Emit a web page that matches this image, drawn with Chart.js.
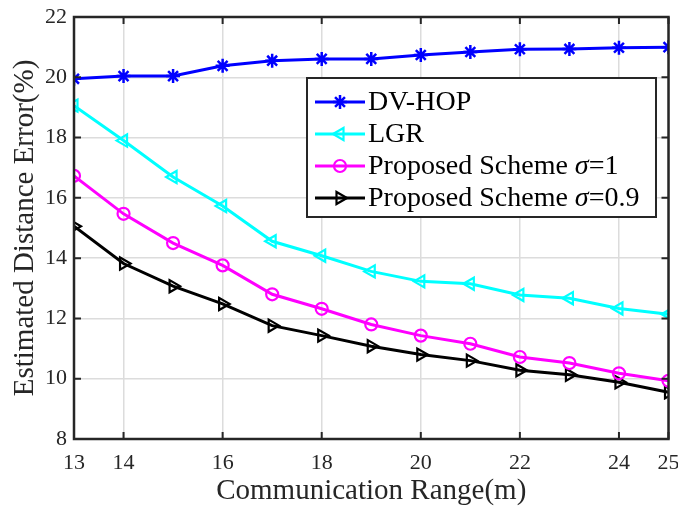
<!DOCTYPE html>
<html>
<head>
<meta charset="utf-8">
<script src="https://cdn.jsdelivr.net/npm/chart.js@4/dist/chart.umd.min.js"></script>
<style>
  html, body { margin: 0; padding: 0; background: #ffffff; }
  #wrap { width: 678px; height: 509px; }
</style>
</head>
<body>
<div id="wrap"><canvas id="c" width="678" height="509"></canvas></div>
<script>
const ranges = [13, 14, 15, 16, 17, 18, 19, 20, 21, 22, 23, 24, 25];
const dvHop = [19.95, 20.04, 20.04, 20.38, 20.55, 20.61, 20.61, 20.74, 20.84, 20.93, 20.94, 20.98, 21.0];
const lgr = [19.06, 17.9, 16.69, 15.73, 14.56, 14.08, 13.56, 13.23, 13.15, 12.78, 12.67, 12.33, 12.14];
const propSigma1 = [16.73, 15.47, 14.5, 13.76, 12.8, 12.32, 11.8, 11.43, 11.16, 10.72, 10.52, 10.18, 9.93];
const propSigma09 = [15.06, 13.82, 13.07, 12.48, 11.76, 11.43, 11.08, 10.8, 10.6, 10.28, 10.13, 9.88, 9.55];
const xTickValues = [13, 14, 16, 18, 20, 22, 24, 25];
const yTickValues = [8, 10, 12, 14, 16, 18, 20, 22];
const seriesNames = ['DV-HOP', 'LGR', 'Proposed Scheme ', 'Proposed Scheme '];
const sigmaSuffix = ['', '', '=1', '=0.9'];

const FONT = "'Liberation Serif', 'Times New Roman', serif";
const AXIS_COLOR = '#262626';

function pts(arr) { return ranges.map((x, i) => ({ x: x, y: arr[i] })); }

const datasets = [
  { label: seriesNames[0], data: pts(dvHop), borderColor: '#0000ff', backgroundColor: '#0000ff',
    pointStyle: 'star', pointRadius: 7, pointBorderWidth: 2.5, borderWidth: 3 },
  { label: seriesNames[1], data: pts(lgr), borderColor: '#00ffff', backgroundColor: 'rgba(0,0,0,0)',
    pointStyle: 'triangle', rotation: -90, pointRadius: 7, pointBorderWidth: 2.2, borderWidth: 3 },
  { label: seriesNames[2], data: pts(propSigma1), borderColor: '#ff00ff', backgroundColor: 'rgba(0,0,0,0)',
    pointStyle: 'circle', pointRadius: 6, pointBorderWidth: 2.2, borderWidth: 3 },
  { label: seriesNames[3], data: pts(propSigma09), borderColor: '#000000', backgroundColor: 'rgba(0,0,0,0)',
    pointStyle: 'triangle', rotation: 90, pointRadius: 7, pointBorderWidth: 2.2, borderWidth: 3 }
];
datasets.forEach(d => { d.tension = 0; d.fill = false; d.pointHoverRadius = d.pointRadius; });

const framePlugin = {
  id: 'frame',
  afterDatasetsDraw(chart) {
    const ctx = chart.ctx, a = chart.chartArea;
    const xs = chart.scales.x, ys = chart.scales.y;
    ctx.save();
    ctx.strokeStyle = AXIS_COLOR;
    ctx.lineWidth = 2;
    const tl = 7;
    ctx.beginPath();
    xTickValues.forEach(v => {
      const px = xs.getPixelForValue(v);
      ctx.moveTo(px, a.bottom); ctx.lineTo(px, a.bottom - tl);
      ctx.moveTo(px, a.top); ctx.lineTo(px, a.top + tl);
    });
    yTickValues.forEach(v => {
      const py = ys.getPixelForValue(v);
      ctx.moveTo(a.left, py); ctx.lineTo(a.left + tl, py);
      ctx.moveTo(a.right, py); ctx.lineTo(a.right - tl, py);
    });
    ctx.stroke();
    ctx.lineWidth = 2.5;
    ctx.strokeRect(a.left, a.top, a.right - a.left, a.bottom - a.top);
    ctx.restore();
  }
};

const legendPlugin = {
  id: 'mlegend',
  afterDraw(chart) {
    const ctx = chart.ctx;
    const bx = 307, by = 78, bw = 349, bh = 139;
    ctx.save();
    ctx.fillStyle = '#ffffff';
    ctx.fillRect(bx, by, bw, bh);
    ctx.strokeStyle = AXIS_COLOR;
    ctx.lineWidth = 2;
    ctx.strokeRect(bx, by, bw, bh);
    const rowY = [102, 134, 166, 198];
    chart.data.datasets.forEach((d, i) => {
      const y = rowY[i];
      ctx.strokeStyle = d.borderColor;
      ctx.lineWidth = 3;
      ctx.beginPath(); ctx.moveTo(315, y); ctx.lineTo(365, y); ctx.stroke();
      ctx.lineWidth = d.pointBorderWidth;
      ctx.fillStyle = d.backgroundColor;
      Chart.helpers.drawPoint(ctx, { pointStyle: d.pointStyle, rotation: d.rotation || 0,
        radius: d.pointRadius, borderWidth: d.pointBorderWidth }, 340, y);
      ctx.fillStyle = '#000000';
      ctx.textBaseline = 'middle';
      ctx.textAlign = 'left';
      ctx.font = '28px ' + FONT;
      let x = 368;
      ctx.fillText(d.label, x, y + 1);
      if (sigmaSuffix[i]) {
        x += ctx.measureText(d.label).width;
        ctx.font = 'italic 28px ' + FONT;
        ctx.fillText('σ', x, y + 1);
        x += ctx.measureText('σ').width;
        ctx.font = '28px ' + FONT;
        ctx.fillText(sigmaSuffix[i], x, y + 1);
      }
    });
    ctx.restore();
  }
};

new Chart(document.getElementById('c'), {
  type: 'line',
  data: { datasets: datasets },
  options: {
    responsive: false,
    animation: false,
    devicePixelRatio: 1,
    layout: { padding: { top: 17, right: 9, left: 0, bottom: 0 } },
    plugins: { legend: { display: false }, tooltip: { enabled: false } },
    scales: {
      x: {
        type: 'linear', min: 13, max: 25,
        afterBuildTicks: s => { s.ticks = xTickValues.map(v => ({ value: v })); },
        afterFit: s => { s.height = 70; s.paddingLeft = 0; s.paddingRight = 0; },
        grid: { color: '#dcdcdc', lineWidth: 1.5, drawTicks: false },
        border: { display: false },
        ticks: { color: '#262626', font: { family: FONT, size: 22 }, padding: 11, maxRotation: 0, autoSkip: false },
        title: { display: true, text: 'Communication Range(m)', color: '#262626',
          font: { family: FONT, size: 29 }, padding: { top: 0, bottom: 0 } }
      },
      y: {
        type: 'linear', min: 8, max: 22,
        afterBuildTicks: s => { s.ticks = yTickValues.map(v => ({ value: v })); },
        afterFit: s => { s.width = 74; s.paddingTop = 0; s.paddingBottom = 0; },
        grid: { color: '#dcdcdc', lineWidth: 1.5, drawTicks: false },
        border: { display: false },
        ticks: { color: '#262626', font: { family: FONT, size: 22 }, padding: 7 },
        title: { display: true, text: 'Estimated Distance Error(%)', color: '#262626',
          font: { family: FONT, size: 29 }, padding: { top: 8, bottom: 0 } }
      }
    }
  },
  plugins: [framePlugin, legendPlugin]
});
</script>
</body>
</html>
